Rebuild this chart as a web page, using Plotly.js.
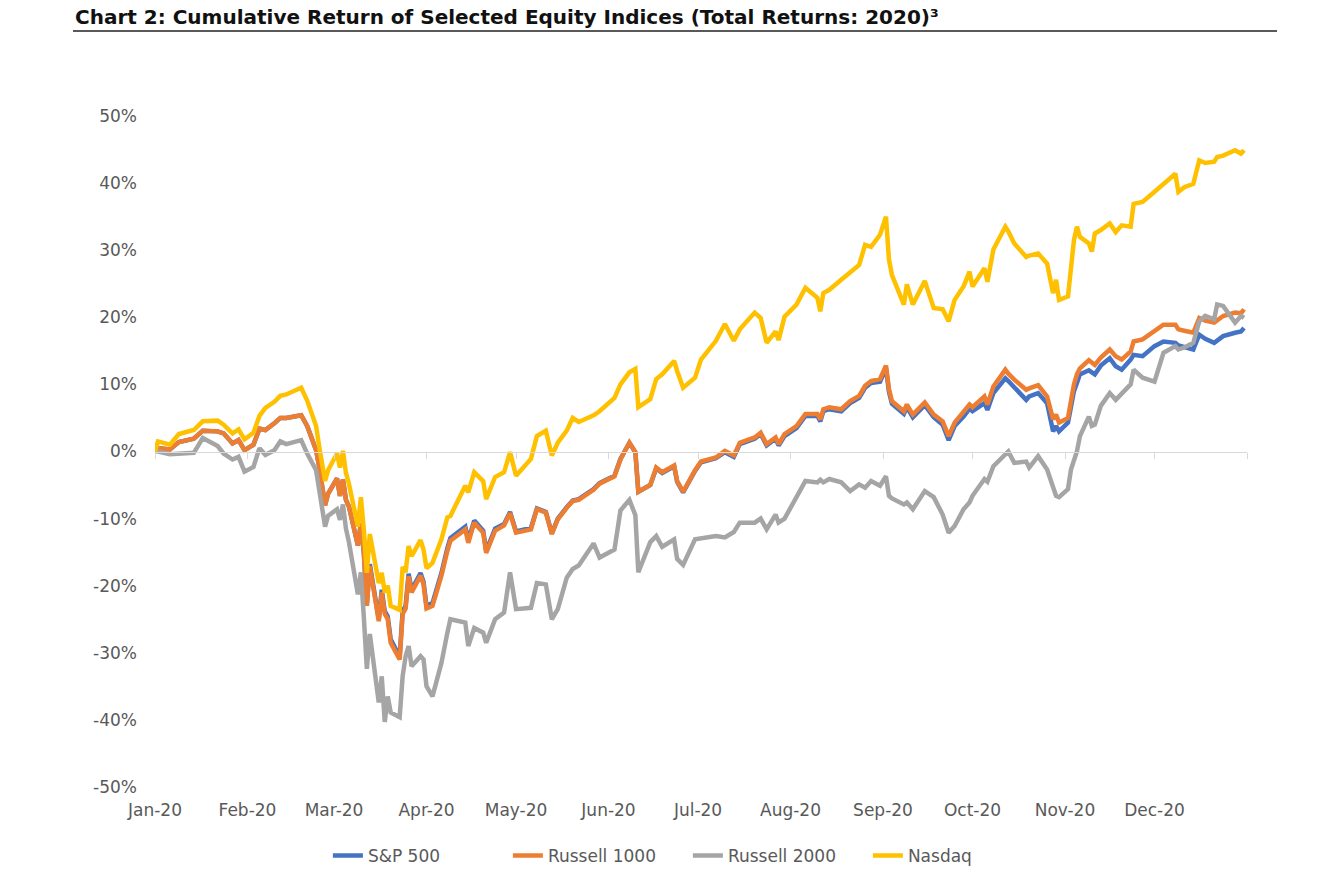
<!DOCTYPE html>
<html>
<head>
<meta charset="utf-8">
<script src="https://cdn.plot.ly/plotly-3.0.1.min.js"></script>
<style>html,body{margin:0;padding:0;background:#fff;}#chart{width:1342px;height:885px;}</style>
</head>
<body>
<div id="chart"></div>
<script>
const dates = [
"2020-01-01","2020-01-02","2020-01-06","2020-01-09","2020-01-14","2020-01-17","2020-01-22","2020-01-24","2020-01-27","2020-01-29","2020-01-31",
"2020-02-03","2020-02-05","2020-02-07","2020-02-10","2020-02-12","2020-02-14","2020-02-19","2020-02-21","2020-02-24","2020-02-25","2020-02-27","2020-02-28",
"2020-03-02","2020-03-03","2020-03-04","2020-03-05","2020-03-06","2020-03-09","2020-03-10","2020-03-11","2020-03-12","2020-03-13","2020-03-16","2020-03-17","2020-03-18","2020-03-19","2020-03-20","2020-03-23","2020-03-24","2020-03-25","2020-03-26","2020-03-27","2020-03-30","2020-03-31",
"2020-04-01","2020-04-03","2020-04-06","2020-04-08","2020-04-09","2020-04-14","2020-04-15","2020-04-17","2020-04-20","2020-04-21","2020-04-24","2020-04-27","2020-04-29",
"2020-05-01","2020-05-06","2020-05-08","2020-05-11","2020-05-13","2020-05-15","2020-05-18","2020-05-20","2020-05-22","2020-05-27","2020-05-29",
"2020-06-03","2020-06-05","2020-06-08","2020-06-10","2020-06-11","2020-06-15","2020-06-17","2020-06-19","2020-06-23","2020-06-24","2020-06-26","2020-06-30",
"2020-07-02","2020-07-07","2020-07-10","2020-07-13","2020-07-15","2020-07-20","2020-07-22","2020-07-24","2020-07-27","2020-07-28","2020-07-30",
"2020-08-03","2020-08-06","2020-08-10","2020-08-11","2020-08-12","2020-08-14","2020-08-18","2020-08-21","2020-08-24","2020-08-26","2020-08-28","2020-08-31",
"2020-09-02","2020-09-03","2020-09-04","2020-09-08","2020-09-09","2020-09-11","2020-09-15","2020-09-18","2020-09-21","2020-09-23","2020-09-25","2020-09-28","2020-09-30",
"2020-10-01","2020-10-05","2020-10-06","2020-10-08","2020-10-12","2020-10-13","2020-10-15","2020-10-19","2020-10-20","2020-10-23","2020-10-26","2020-10-28","2020-10-29","2020-10-30",
"2020-11-02","2020-11-03","2020-11-04","2020-11-05","2020-11-06","2020-11-09","2020-11-10","2020-11-11","2020-11-13","2020-11-16","2020-11-18","2020-11-20","2020-11-23","2020-11-24","2020-11-27",
"2020-12-01","2020-12-04","2020-12-08","2020-12-09","2020-12-11","2020-12-14","2020-12-16","2020-12-18","2020-12-21","2020-12-22","2020-12-24","2020-12-28","2020-12-30","2020-12-31"
];

const sp500 = [
0,0.5,0.3,1.4,1.9,3.1,3.0,2.7,1.2,1.7,0.2,
1.0,3.4,3.2,4.2,5.0,5.0,5.4,3.8,0.2,-2.2,-8.0,-6.3,
-4.0,-6.6,-4.2,-7.2,-8.2,-14.0,-10.7,-15.1,-22.8,-16.8,-25.0,-20.6,-23.8,-24.6,-28.0,-30.6,-23.8,-23.0,-18.2,-20.6,-18.1,-19.4,
-23.0,-22.6,-18.1,-14.4,-12.9,-11.2,-13.2,-10.3,-11.8,-14.8,-11.5,-10.8,-9.0,
-11.9,-11.4,-8.5,-9.0,-12.2,-10.0,-8.3,-7.3,-7.1,-5.6,-4.7,
-3.6,-1.1,1.3,-0.1,-6.0,-5.0,-2.5,-3.2,-2.2,-4.5,-6.1,-2.9,
-1.6,-1.0,-0.1,-0.8,1.1,1.9,2.6,0.9,1.9,0.9,2.3,
3.5,5.3,5.3,4.5,6.0,6.3,6.0,7.2,8.0,9.5,10.2,10.4,
12.4,8.9,7.1,5.6,6.6,5.1,6.9,5.1,4.0,1.7,3.8,5.2,6.4,
6.0,7.2,6.2,8.7,10.9,10.5,9.5,7.7,8.2,8.7,7.2,3.0,3.8,3.0,
4.3,7.0,9.0,10.2,11.5,12.1,11.8,11.5,12.8,13.9,12.7,12.2,13.7,14.4,14.2,
15.7,16.4,16.2,15.8,15.5,15.2,17.4,16.8,16.2,16.6,17.2,17.7,17.9,18.4
];

const russell1000 = [
0,0.5,0.3,1.4,1.9,3.1,3.0,2.7,1.2,1.7,0.2,
1.0,3.4,3.2,4.2,5.0,5.0,5.4,3.8,0.2,-2.2,-8.0,-6.3,
-4.0,-6.6,-4.2,-7.2,-8.2,-14.0,-10.7,-15.1,-23.0,-17.1,-25.3,-21.0,-24.2,-25.0,-28.5,-31.0,-24.2,-23.4,-18.6,-21.0,-18.5,-19.8,
-23.4,-23.0,-18.5,-14.8,-13.3,-11.6,-13.6,-10.6,-12.1,-15.1,-11.8,-11.0,-9.2,
-12.1,-11.6,-8.6,-9.1,-12.3,-10.1,-8.4,-7.4,-7.2,-5.7,-4.8,
-3.7,-1.2,1.3,-0.1,-6.0,-5.0,-2.4,-3.1,-2.1,-4.4,-6.0,-2.8,
-1.5,-0.9,0.1,-0.6,1.3,2.1,2.8,1.1,2.1,1.1,2.6,
3.8,5.6,5.6,4.8,6.3,6.6,6.3,7.5,8.3,9.8,10.5,10.8,
12.8,9.3,7.5,6.0,7.0,5.5,7.3,5.5,4.5,2.3,4.3,5.8,7.0,
6.6,8.2,7.0,9.7,12.2,11.6,10.7,9.2,9.4,9.9,8.2,4.8,5.5,4.3,
5.0,7.5,10.0,11.5,12.4,13.6,13.2,12.9,14.0,15.2,14.2,13.7,14.9,16.4,16.7,
17.9,18.9,18.9,18.2,18.0,17.7,19.9,19.5,19.2,19.6,20.2,20.7,20.6,21.2
];

const russell2000 = [
0,0,-0.4,-0.3,-0.2,2.0,0.8,-0.3,-1.2,-0.8,-3.0,
-2.3,0.5,-0.5,0.2,1.5,1.1,1.7,-0.3,-2.8,-5.8,-11.2,-9.6,
-8.6,-10.2,-7.9,-11.5,-13.5,-21.3,-18.0,-24.7,-32.4,-27.2,-37.4,-33.5,-40.3,-36.5,-38.9,-39.6,-33.5,-30.5,-29.0,-32.0,-30.5,-31.0,
-35.0,-36.5,-31.5,-27.0,-25.0,-25.5,-29.0,-26.3,-27.0,-28.5,-25.0,-24.0,-18.0,
-23.5,-23.3,-19.6,-19.8,-25.0,-23.5,-18.8,-17.5,-17.0,-13.7,-15.8,
-14.6,-8.8,-7.2,-9.5,-18.0,-13.5,-12.6,-14.2,-13.1,-16.0,-16.9,-13.1,
-13.0,-12.6,-12.8,-12.0,-10.6,-10.6,-10.0,-11.6,-9.4,-10.6,-10.0,
-6.6,-4.4,-4.6,-4.2,-4.6,-4.1,-4.6,-5.9,-4.9,-5.4,-4.4,-5.1,
-3.7,-6.6,-7.0,-7.9,-7.6,-8.6,-5.9,-6.8,-9.4,-12.1,-11.1,-8.6,-7.6,
-6.6,-4.1,-4.5,-2.2,-0.4,0.0,-1.7,-1.5,-2.4,-0.7,-2.7,-5.6,-6.6,-6.8,
-5.6,-2.7,-1.5,0.0,2.3,5.2,3.8,4.0,6.8,8.7,7.7,8.7,10.0,12.2,11.0,
10.4,14.7,15.7,15.2,15.5,16.2,19.4,20.2,19.7,21.9,21.7,19.2,20.2,19.9
];

const nasdaq = [
0,1.5,1.0,2.6,3.2,4.5,4.6,4.0,2.7,3.3,1.8,
2.8,5.3,6.5,7.4,8.3,8.5,9.5,7.6,3.8,0.8,-4.4,-2.8,
-0.3,-2.4,0.1,-3.2,-4.8,-11.2,-6.8,-11.7,-18.1,-12.3,-19.6,-18.1,-21.0,-20.0,-23.0,-23.6,-17.2,-18.0,-14.1,-15.6,-13.2,-14.6,
-17.4,-16.6,-13.1,-9.8,-9.6,-5.1,-6.1,-3.1,-4.4,-7.1,-3.8,-3.1,-0.1,
-3.6,-1.1,2.3,3.1,-0.6,1.3,3.1,5.0,4.4,5.4,6.0,
8.0,10.0,11.8,12.3,6.6,7.8,10.8,11.5,13.5,12.0,9.5,11.0,
13.7,16.5,19.0,16.5,18.2,20.7,19.9,16.2,17.9,16.6,20.1,
21.9,24.4,22.9,20.9,23.6,24.1,25.6,26.8,27.8,30.8,30.5,32.3,
35.0,28.6,26.3,21.9,24.9,21.9,25.4,21.4,21.2,19.4,22.6,24.6,26.8,
24.6,27.3,25.3,30.1,33.5,32.8,31.0,29.0,29.2,29.5,28.0,23.6,25.6,22.6,
23.1,27.0,31.5,33.5,32.0,31.0,29.8,32.5,33.0,34.0,32.7,33.7,33.5,36.9,37.2,
38.7,39.9,41.4,38.7,39.4,39.9,43.4,43.0,43.2,43.9,44.1,44.9,44.4,44.9
];

const seriesNames = ["S&P 500", "Russell 1000", "Russell 2000", "Nasdaq"];
const monthTicks = ["2020-01-01","2020-02-01","2020-03-01","2020-04-01","2020-05-01","2020-06-01","2020-07-01","2020-08-01","2020-09-01","2020-10-01","2020-11-01","2020-12-01"];
const monthLabels = ["Jan-20","Feb-20","Mar-20","Apr-20","May-20","Jun-20","Jul-20","Aug-20","Sep-20","Oct-20","Nov-20","Dec-20"];
const boundaryTicks = monthTicks.concat(["2021-01-01"]);
const yTickVals = [-50,-40,-30,-20,-10,0,10,20,30,40,50];
const yTickText = ["-50%","-40%","-30%","-20%","-10%","0%","10%","20%","30%","40%","50%"];

const colors = ["#4472C4", "#ED7D31", "#A5A5A5", "#FFC000"];
const values = [sp500, russell1000, russell2000, nasdaq];

const traces = values.map((v, i) => ({
  type: "scatter", mode: "lines", name: seriesNames[i],
  x: dates, y: v, xaxis: "x", yaxis: "y",
  line: {color: colors[i], width: 4.5}
}));
traces.push({type: "scatter", mode: "lines", x: [], y: [], xaxis: "x2", yaxis: "y", showlegend: false, hoverinfo: "skip"});

const xRange = ["2020-01-01", "2021-01-01"];
const layout = {
  width: 1342, height: 885,
  margin: {l: 155, r: 95, t: 116, b: 97},
  paper_bgcolor: "#ffffff", plot_bgcolor: "#ffffff",
  font: {family: "DejaVu Sans", color: "#595959", size: 17},
  title: {
    text: "<b>Chart 2: Cumulative Return of Selected Equity Indices (Total Returns: 2020)³</b>",
    font: {family: "DejaVu Sans", size: 20, color: "#111111"},
    xref: "container", x: 75/1342, xanchor: "left",
    yref: "container", y: 1 - 17/885, yanchor: "middle"
  },
  xaxis: {
    type: "date", range: xRange, tickvals: monthTicks, ticktext: monthLabels,
    showgrid: false, zeroline: false, showline: false, ticks: "",
    tickfont: {size: 17, color: "#595959"}, ticklabelstandoff: 11, fixedrange: true
  },
  xaxis2: {
    type: "date", range: xRange, overlaying: "x", anchor: "free", position: 0.5,
    showline: true, linecolor: "#d9d9d9", linewidth: 1,
    ticks: "outside", ticklen: 6, tickcolor: "#d9d9d9", tickwidth: 1,
    tickvals: boundaryTicks, showticklabels: false, showgrid: false, zeroline: false
  },
  yaxis: {
    range: [-50, 50], tickvals: yTickVals, ticktext: yTickText,
    showgrid: false, zeroline: false, showline: false, ticks: "",
    tickfont: {size: 17, color: "#595959"}, ticklabelstandoff: 17, fixedrange: true
  },
  showlegend: true,
  legend: {
    orientation: "h", x: 0.488, xanchor: "center", y: -0.101, yanchor: "middle",
    font: {size: 17, color: "#595959"}, traceorder: "normal",
    entrywidth: 135, entrywidthmode: "pixels"
  },
  shapes: [{
    type: "line", xref: "paper", yref: "paper",
    x0: -0.0751, x1: 1.0275, y0: 1.1265, y1: 1.1265,
    line: {color: "#222222", width: 1.5}
  }]
};

Plotly.newPlot("chart", traces, layout, {displayModeBar: false, staticPlot: true});
</script>
</body>
</html>
